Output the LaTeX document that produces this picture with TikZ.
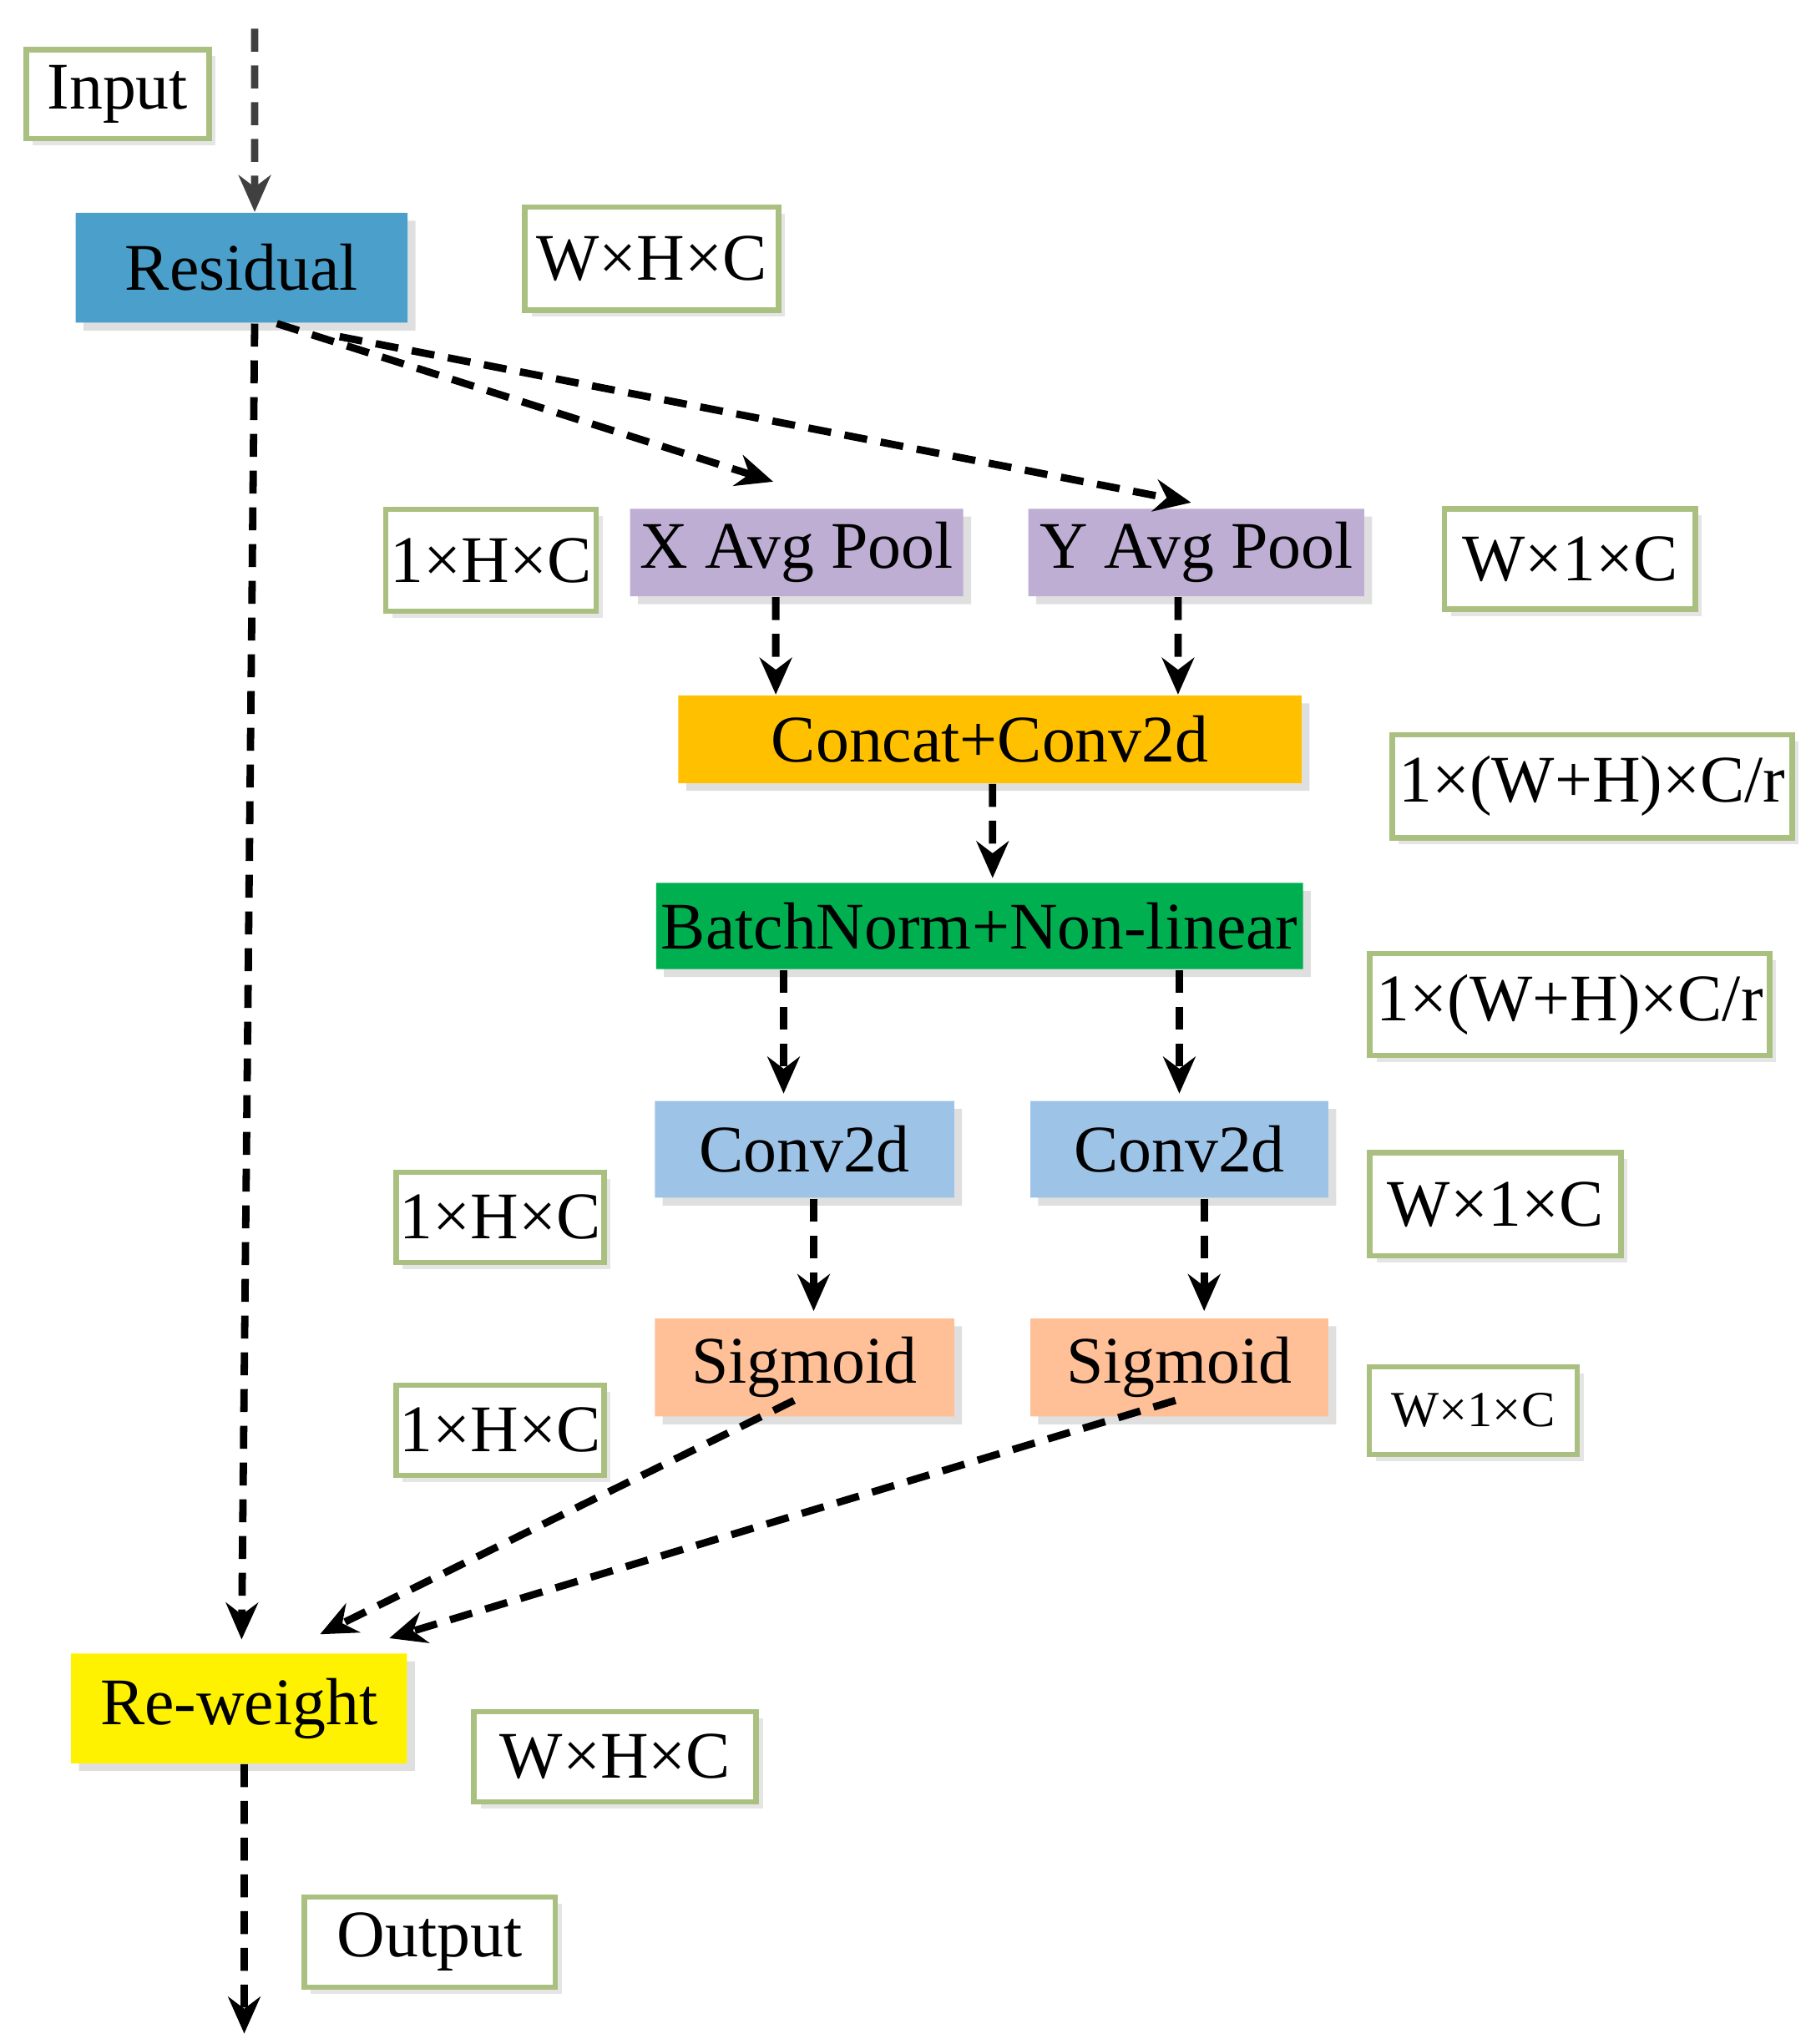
\documentclass[tikz,border=0pt]{standalone}
\usepackage{fontspec}
\setmainfont{Liberation Serif}
\usetikzlibrary{shapes.misc,shadows,arrows.meta}
\definecolor{boxgreen}{RGB}{170,192,128}
\definecolor{resblue}{RGB}{75,160,203}
\definecolor{lavender}{RGB}{190,174,212}
\definecolor{concatorange}{RGB}{255,192,0}
\definecolor{bngreen}{RGB}{0,176,80}
\definecolor{convblue}{RGB}{157,195,230}
\definecolor{sigpeach}{RGB}{255,192,152}
\begin{document}
\begin{tikzpicture}[x=0.01cm,y=-0.01cm,
	op/.style={chamfered rectangle, chamfered rectangle xsep=0pt, chamfered rectangle ysep=0pt,
		chamfered rectangle angle=45, inner sep=0pt, font=\fontsize{14.5}{17}\selectfont,
		drop shadow={shadow xshift=0.06cm, shadow yshift=-0.06cm, fill=gray!25, opacity=1}},
	dim/.style={rectangle, draw=boxgreen, line width=1.2pt, fill=white, inner sep=0pt,
		font=\fontsize{14.5}{17}\selectfont,
		drop shadow={shadow xshift=0.05cm, shadow yshift=-0.05cm, fill=gray!20, opacity=1}},
	flow/.style={densely dashed, line width=1.6pt, dash pattern=on 5pt off 3pt, -{Stealth[length=8pt,width=7pt]}},
	>=Stealth]

	\useasboundingbox (0,0) rectangle (1390,1565);

	%Nodes
	\node[dim, minimum width=1.4cm, minimum height=0.68cm] (in) at (90,72) {Input};
	\coordinate (top) at (195,22);
	\node[op, fill=resblue, minimum width=2.54cm, minimum height=0.84cm] (res) at (185,205) {Residual};
	\node[dim, minimum width=1.94cm, minimum height=0.79cm] (d1) at (499,198) {W×H×C};

	\node[op, fill=lavender, minimum width=2.55cm, minimum height=0.67cm] (xp) at (610,423) {X Avg Pool};
	\node[op, fill=lavender, minimum width=2.57cm, minimum height=0.67cm] (yp) at (916,423) {Y Avg Pool};
	\node[dim, minimum width=1.61cm, minimum height=0.78cm] (d2) at (376,429) {1×H×C};
	\node[dim, minimum width=1.92cm, minimum height=0.77cm] (d3) at (1202,428) {W×1×C};

	\node[op, fill=concatorange, minimum width=4.77cm, minimum height=0.67cm] (cc) at (758,566) {Concat+Conv2d};
	\node[dim, minimum width=3.06cm, minimum height=0.79cm] (d4) at (1219,602) {1×(W+H)×C/r};

	\node[op, fill=bngreen, minimum width=4.95cm, minimum height=0.66cm] (bn) at (750,709) {BatchNorm+Non-linear};
	\node[dim, minimum width=3.06cm, minimum height=0.78cm] (d5) at (1202,769) {1×(W+H)×C/r};

	\node[op, fill=convblue, minimum width=2.29cm, minimum height=0.74cm] (cl) at (616,880) {Conv2d};
	\node[op, fill=convblue, minimum width=2.28cm, minimum height=0.74cm] (cr) at (903,880) {Conv2d};
	\node[dim, minimum width=1.59cm, minimum height=0.69cm] (d6) at (383,932) {1×H×C};
	\node[dim, minimum width=1.92cm, minimum height=0.79cm] (d7) at (1145,922) {W×1×C};

	\node[op, fill=sigpeach, minimum width=2.29cm, minimum height=0.75cm] (sl) at (616,1047) {Sigmoid};
	\node[op, fill=sigpeach, minimum width=2.28cm, minimum height=0.75cm] (sr) at (903,1047) {Sigmoid};
	\node[dim, minimum width=1.59cm, minimum height=0.69cm] (d8) at (383,1095) {1×H×C};
	\node[dim, minimum width=1.59cm, minimum height=0.67cm, font=\fontsize{11}{13}\selectfont] (d9) at (1128,1080) {W×1×C};

	\node[op, fill=yellow, minimum width=2.57cm, minimum height=0.84cm] (rw) at (183,1308) {Re-weight};
	\node[dim, minimum width=2.16cm, minimum height=0.69cm] (d10) at (471,1345) {W×H×C};
	\node[dim, minimum width=1.92cm, minimum height=0.69cm] (out) at (329,1487) {Output};
	\coordinate (bot) at (187,1557);

	%Lines
	\draw[flow, draw=black!75] (top) -- ([xshift=0.1cm]res.north);
	\draw[flow] ([xshift=0.1cm]res.south) -- ([xshift=0.02cm, yshift=0.1cm]rw.north);
	\draw[flow] ([xshift=0.27cm]res.south) -- ([xshift=-0.18cm, yshift=0.2cm]xp.north);
	\draw[flow] ([xshift=0.75cm, yshift=-0.1cm]res.south) -- ([yshift=0.04cm]yp.north -| 912,0);
	\draw[flow] ([xshift=-0.16cm]xp.south) -- (cc.north -| 594,0);
	\draw[flow] ([xshift=-0.14cm]yp.south) -- (cc.north -| 902,0);
	\draw[flow] ([xshift=0.02cm]cc.south) -- ([xshift=0.1cm, yshift=0.03cm]bn.north);
	\draw[flow] (bn.south -| 600,0) -- ([yshift=0.05cm]cl.north -| 600,0);
	\draw[flow] (bn.south -| 903,0) -- ([yshift=0.05cm]cr.north);
	\draw[flow] ([xshift=0.07cm]cl.south) -- ([xshift=0.07cm, yshift=0.05cm]sl.north);
	\draw[flow] ([xshift=0.19cm]cr.south) -- ([xshift=0.19cm, yshift=0.05cm]sr.north);
	\draw[flow] ([xshift=-0.08cm, yshift=0.13cm]sl.south) -- ([xshift=0.62cm, yshift=0.14cm]rw.north);
	\draw[flow] ([xshift=-0.03cm, yshift=0.13cm]sr.south) -- ([xshift=1.15cm, yshift=0.11cm]rw.north);
	\draw[flow] ([xshift=0.04cm]rw.south) -- (bot);
\end{tikzpicture}
\end{document}
